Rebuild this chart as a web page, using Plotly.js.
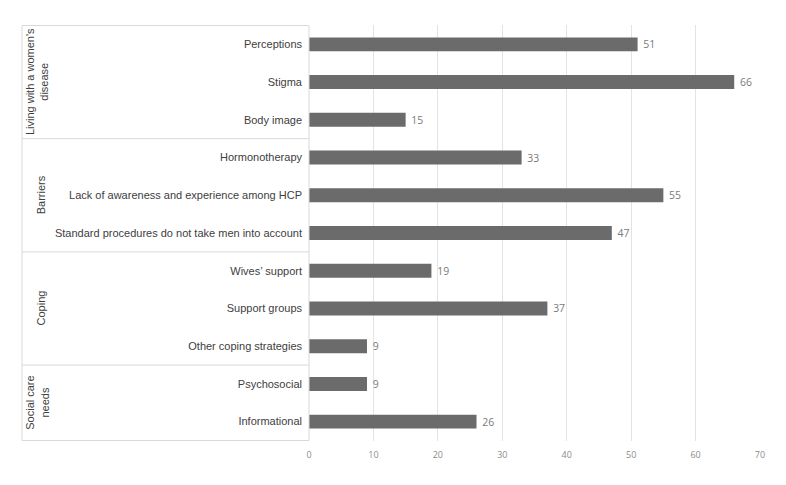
<!DOCTYPE html>
<html>
<head>
<meta charset="utf-8">
<script src="https://cdn.plot.ly/plotly-3.0.1.min.js"></script>
<style>html,body{margin:0;padding:0;background:#fff;}</style>
</head>
<body>
<div id="chart" style="width:786px;height:485px;"></div>
<script>
const categories = [
  "Perceptions", "Stigma", "Body image",
  "Hormonotherapy", "Lack of awareness and experience among HCP", "Standard procedures do not take men into account",
  "Wives’ support", "Support groups", "Other coping strategies",
  "Psychosocial", "Informational"
];
const values = [51, 66, 15, 33, 55, 47, 19, 37, 9, 9, 26];
const groupNames = ["Living with a women's<br>disease", "Barriers", "Coping", "Social care<br>needs"];
const groupSizes = [3, 3, 3, 2];
const xTicks = [0, 10, 20, 30, 40, 50, 60, 70];

const lineColor = "#d9d9d9";
const plotLeft = 309, plotW = 451;
function px2paper(px){ return (px - plotLeft) / plotW; }

const shapes = [];
const annotations = [];
shapes.push({type:'line', xref:'paper', yref:'y', x0:px2paper(22), x1:px2paper(22), y0:-0.5, y1:categories.length-0.5, line:{color:lineColor, width:1}});
shapes.push({type:'line', xref:'paper', yref:'y', x0:0, x1:0, y0:-0.5, y1:categories.length-0.5, line:{color:lineColor, width:1}});
let start = 0;
shapes.push({type:'line', xref:'paper', yref:'y', x0:px2paper(22), x1:0, y0:-0.5, y1:-0.5, line:{color:lineColor, width:1}});
groupNames.forEach((g, i) => {
  const end = start + groupSizes[i];
  shapes.push({type:'line', xref:'paper', yref:'y', x0:px2paper(22), x1:0, y0:end-0.5, y1:end-0.5, line:{color:lineColor, width:1}});
  const twoLine = g.indexOf('<br>') >= 0;
  annotations.push({
    xref:'paper', yref:'y', x:px2paper(twoLine ? 37 : 41), y:(start + end - 1)/2,
    text:g, showarrow:false, textangle:-90, xanchor:'center', yanchor:'middle',
    font:{family:'Liberation Sans, Arial, sans-serif', size:11, color:'#404040'}
  });
  start = end;
});

const trace = {
  type:'bar', orientation:'h',
  x: values, y: categories,
  marker:{color:'#6b6b6b', line:{color:'#6b6b6b', width:0}},
  width:0.37,
  text: values.map(v => '\u00a0' + v), textposition:'outside', cliponaxis:false,
  textfont:{family:'Open Sans, Liberation Sans, sans-serif', size:10.5, color:'#7a7a7a'},
  hoverinfo:'none'
};

const layout = {
  width:786, height:485,
  margin:{l:309, r:26, t:25, b:44},
  paper_bgcolor:'#fff', plot_bgcolor:'#fff',
  showlegend:false,
  xaxis:{
    range:[0,70], tickvals:xTicks, ticktext:xTicks.map(String),
    showgrid:true, gridcolor:'#e3e3e3', gridwidth:1, zeroline:false, showline:false,
    ticks:'', tickfont:{family:'Open Sans, Liberation Sans, sans-serif', size:9, color:'#8c8c8c'},
    ticklabelstandoff:7, fixedrange:true
  },
  yaxis:{
    type:'category', categoryorder:'array', categoryarray:categories,
    autorange:'reversed', showgrid:false, zeroline:false, showline:false,
    ticks:'', ticklabelstandoff:6,
    tickfont:{family:'Liberation Sans, Arial, sans-serif', size:11, color:'#404040'}, fixedrange:true
  },
  bargap:0.6,
  shapes:shapes, annotations:annotations
};
Plotly.newPlot('chart', [trace], layout, {displayModeBar:false, staticPlot:true});
</script>
</body>
</html>
